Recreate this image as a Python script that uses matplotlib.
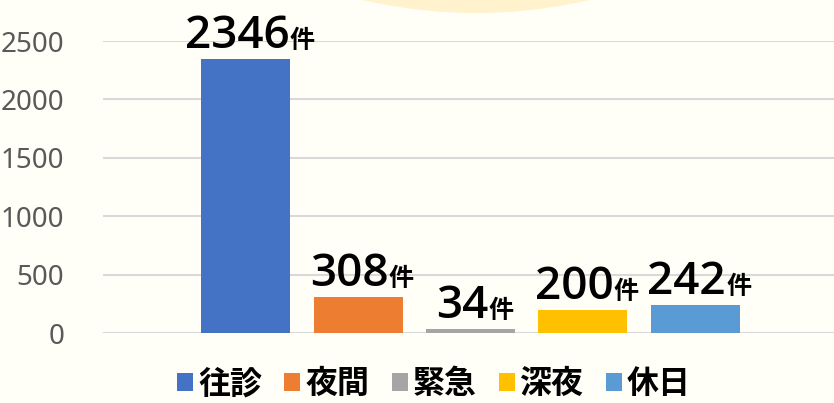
import matplotlib
matplotlib.use("Agg")
import matplotlib.pyplot as plt
import matplotlib.transforms as mtransforms
from matplotlib.patches import Patch, Ellipse

categories = ["往診", "夜間", "緊急", "深夜", "休日"]
values = [2346, 308, 34, 200, 242]
colors = ["#4472C4", "#ED7D31", "#A5A5A5", "#FFC000", "#5B9BD5"]
yticks = [0, 500, 1000, 1500, 2000, 2500]
unit = "件"

W, H = 834, 403
fig = plt.figure(figsize=(W / 100, H / 100), dpi=100)
fig.patch.set_facecolor("#FFFEF7")

# decorative pale circle at the top
fig.add_artist(Ellipse((476 / W, (H + 489) / H), width=1004 / W, height=1004 / H,
                       transform=fig.transFigure, facecolor="#FFF2CC", edgecolor="none", zorder=0))

ax = fig.add_axes([103 / W, 70 / H, (838 - 103) / W, (333 - 41) / H])
ax.set_facecolor("none")
x = list(range(len(categories)))
ax.bar(x, values, width=0.79, color=colors, zorder=3)
ax.set_xlim(-1.27, 5.27)
ax.set_ylim(0, 2500)
ax.set_yticks(yticks)
ax.set_yticklabels([str(t) for t in yticks], fontfamily="Noto Sans", fontsize=20, color="#595959")
ax.set_xticks([])
ax.tick_params(axis="y", length=0, pad=28)
ax.grid(axis="y", color="#D9D9D9", linewidth=1.5, zorder=0)
for s in ax.spines.values():
    s.set_visible(False)

# value labels: large number + small unit
fig.canvas.draw()
r = fig.canvas.get_renderer()
for xi, v in zip(x, values):
    t1 = ax.text(xi, v, str(v), fontfamily="Open Sans", fontweight="semibold", fontsize=33,
                 ha="left", va="baseline", color="black", zorder=5)
    t2 = ax.text(xi, v, unit, fontfamily="Noto Sans CJK JP", fontweight="bold", fontsize=18,
                 ha="left", va="baseline", color="black", zorder=5)
    w1 = t1.get_window_extent(r).width
    w2 = t2.get_window_extent(r).width
    total = w1 + w2
    off1 = mtransforms.offset_copy(ax.transData, fig=fig, x=-total / 2 + 4, y=11, units="dots")
    off2 = mtransforms.offset_copy(ax.transData, fig=fig, x=-total / 2 + 4 + w1, y=11, units="dots")
    t1.set_transform(off1)
    t2.set_transform(off2)

handles = [Patch(facecolor=c, edgecolor="none") for c in colors]
fig.legend(handles, categories, loc="center", bbox_to_anchor=(434 / W, 19 / H), ncol=5,
           frameon=False, prop={"family": "Noto Sans CJK JP", "weight": "bold", "size": 23},
           handlelength=0.5, handleheight=0.5, handletextpad=0.15, columnspacing=0.7,
           borderaxespad=0, borderpad=0)

fig.savefig("out.png", dpi=100, facecolor=fig.get_facecolor())
